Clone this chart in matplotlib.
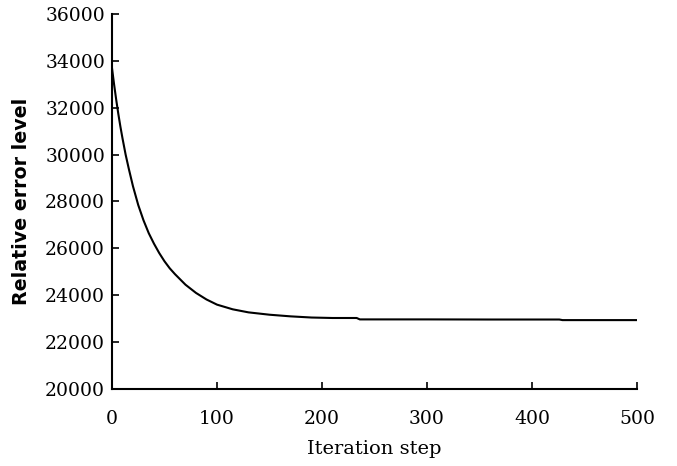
import matplotlib
matplotlib.use('Agg')
import matplotlib.pyplot as plt

# values
steps = [0, 2, 4, 6, 8, 10, 13, 16, 20, 25, 30, 35, 40, 45, 50, 55, 60, 70,
         80, 90, 100, 115, 130, 150, 170, 190, 210, 233, 236, 300, 360, 426,
         429, 500]
error_level = [33700, 33000, 32350, 31750, 31200, 30700, 30000, 29400, 28650,
               27850, 27200, 26650, 26200, 25800, 25450, 25150, 24900, 24450,
               24100, 23820, 23600, 23400, 23270, 23170, 23100, 23050, 23030,
               23030, 22970, 22970, 22965, 22965, 22940, 22940]

x_ticks = [0, 100, 200, 300, 400, 500]
y_ticks = [20000, 22000, 24000, 26000, 28000, 30000, 32000, 34000, 36000]

fig = plt.figure(figsize=(6.77, 4.66), dpi=100)
ax = fig.add_axes([0.1654, 0.1652, 0.7756, 0.8048])

ax.plot(steps, error_level, color='black', linewidth=1.5)

ax.set_xlim(0, 500)
ax.set_ylim(20000, 36000)
ax.set_xticks(x_ticks)
ax.set_yticks(y_ticks)

for side in ['top', 'right']:
    ax.spines[side].set_visible(False)
for side in ['left', 'bottom']:
    ax.spines[side].set_linewidth(1.5)

ax.tick_params(direction='in', length=5, width=1.2, labelsize=13.5)
ax.tick_params(axis='x', pad=15)
ax.tick_params(axis='y', pad=5)
for lbl in ax.get_xticklabels() + ax.get_yticklabels():
    lbl.set_fontfamily('DejaVu Serif')

ax.set_xlabel('Iteration step', fontfamily='DejaVu Serif', fontsize=14, labelpad=9)
ax.set_ylabel('Relative error level', fontfamily='DejaVu Sans', fontweight='bold',
              fontsize=13.7, labelpad=10)

fig.savefig('out.png', dpi=100)
